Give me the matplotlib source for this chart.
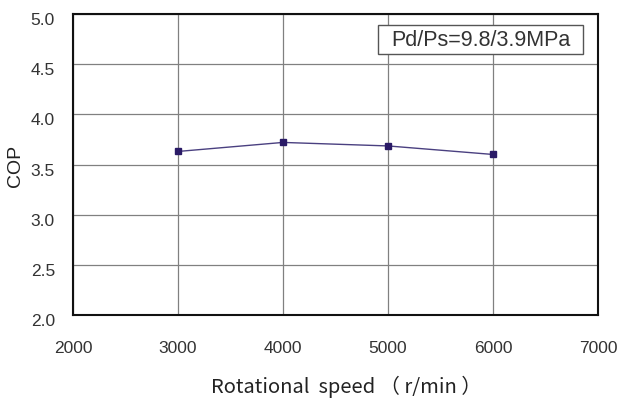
import matplotlib.pyplot as plt
import matplotlib.transforms as mtransforms
from matplotlib.patches import Rectangle

# data
speed = [3000, 4000, 5000, 6000]
cop = [3.63, 3.72, 3.685, 3.60]
xticks = [2000, 3000, 4000, 5000, 6000, 7000]
yticks = [2.0, 2.5, 3.0, 3.5, 4.0, 4.5, 5.0]

plt.rcParams['font.family'] = ['Liberation Sans', 'DejaVu Sans']

fig = plt.figure(figsize=(6.17, 3.98), dpi=100)
ax = fig.add_axes([73 / 617, 1 - 315 / 398, (598 - 73) / 617, (315 - 14) / 398])

ax.plot(speed, cop, color='#4a4080', lw=1, marker='s', ms=5,
        mfc='#2a1a66', mec='#2a1a66', zorder=3)

ax.set_xlim(2000, 7000)
ax.set_ylim(2.0, 5.0)
ax.set_xticks(xticks)
ax.set_yticks(yticks)
ax.set_yticklabels(['%.1f' % v for v in yticks])
ax.grid(True, color='#808080', lw=0.9)
ax.tick_params(length=0, labelsize=12.5, colors='#333333')
ax.tick_params(axis='x', pad=19)
ax.tick_params(axis='y', pad=13)
# y labels sit a little below their gridlines in the reference
shift = mtransforms.ScaledTranslation(0, -5 / 100, fig.dpi_scale_trans)
for lab in ax.get_yticklabels():
    lab.set_transform(lab.get_transform() + shift)
for s in ax.spines.values():
    s.set_linewidth(1.5)
    s.set_color('#111111')

fig.text(346 / 617, 1 - 387 / 398, 'Rotational  speed （ r/min ）', fontsize=14.5,
         ha='center', va='center', color='#222222',
         family=['Noto Sans CJK JP', 'DejaVu Sans'])
fig.text(15.5 / 617, 1 - 165.5 / 398, 'COP', fontsize=14, rotation=90,
         ha='center', va='center', color='#222222')

ax.add_patch(Rectangle((0.581, 0.867), 0.39, 0.096, transform=ax.transAxes,
                       fc='white', ec='#555555', lw=1, zorder=4))
ax.text(0.776, 0.913, 'Pd/Ps=9.8/3.9MPa', transform=ax.transAxes,
        ha='center', va='center', fontsize=15.5, color='#333333', zorder=5)

fig.savefig('out.png', dpi=100)
